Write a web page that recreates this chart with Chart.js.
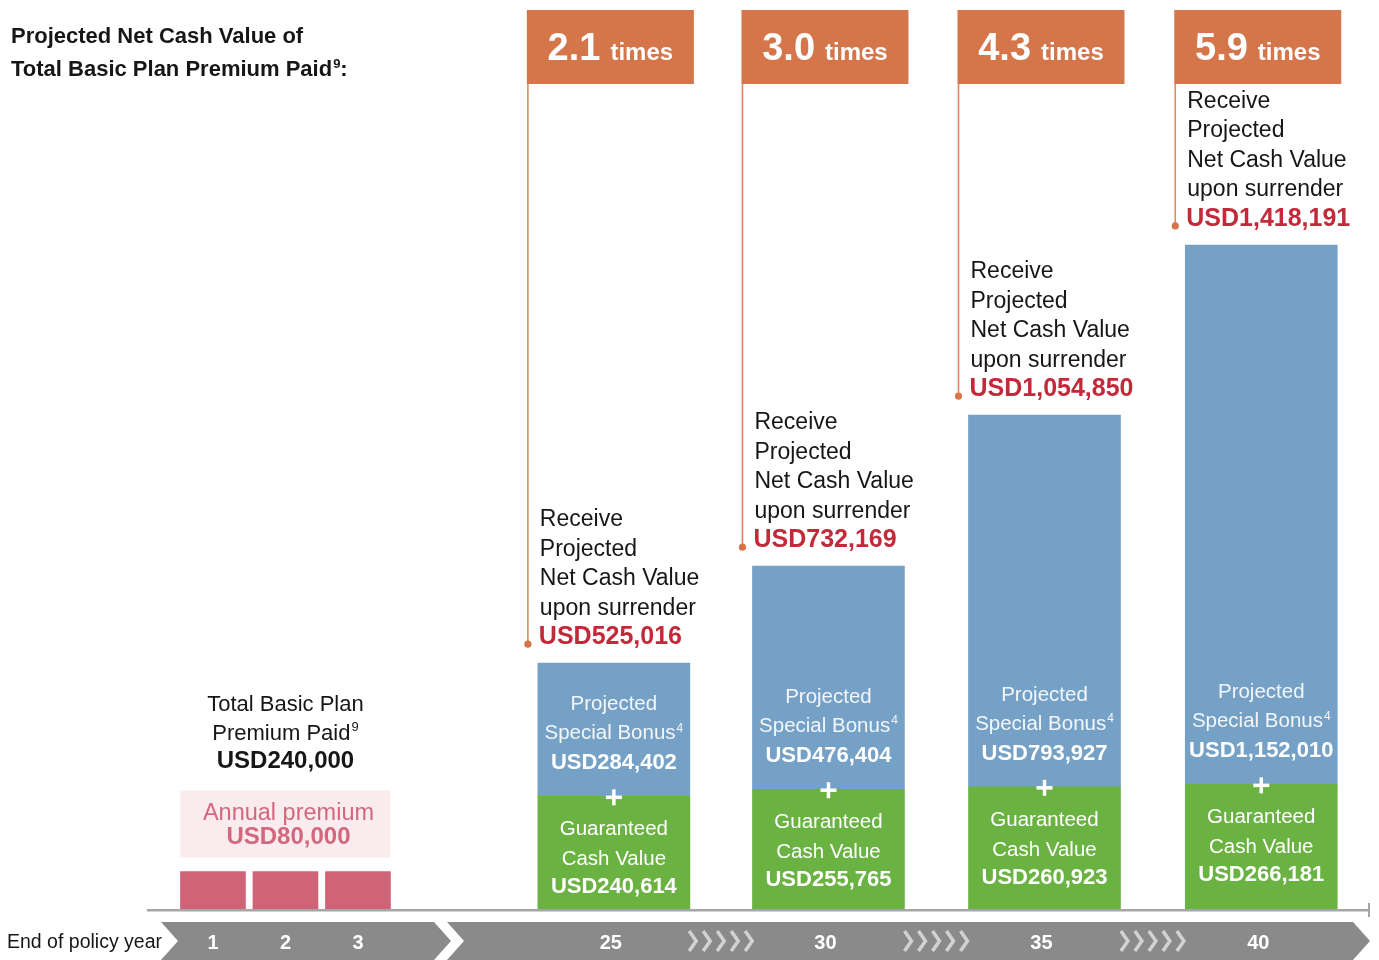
<!DOCTYPE html>
<html>
<head>
<meta charset="utf-8">
<script src="https://cdn.jsdelivr.net/npm/chart.js@4.4.0/dist/chart.umd.min.js"></script>
<style>
  html, body { margin: 0; padding: 0; background: #fff; }
  #wrap { width: 1379px; height: 960px; }
</style>
</head>
<body>
<div id="wrap"><canvas id="chart" width="1379" height="960"></canvas></div>
<script>
// values as printed on the chart (USD)
const premiumYears = ['1', '2', '3'];
const annualPremium = [80000, 80000, 80000];
const totalPremium = 240000;
const milestoneYears = ['25', '30', '35', '40'];
const guaranteedCashValue = [240614, 255765, 260923, 266181];
const specialBonus = [284402, 476404, 793927, 1152010];
const netCashValue = [525016, 732169, 1054850, 1418191];
const multiples = ['2.1', '3.0', '4.3', '5.9'];

// layout: where each bar sits along the (hidden) x axis
const PREMIUM_SLOTS = [0, 1, 2];
const MILESTONE_SLOTS = [5.53, 8.49, 11.47, 14.46];

const FONT = '"Liberation Sans", Arial, sans-serif';
const ORANGE = '#D4764A';
const RED = '#C22A3A';
const INK = '#161616';

function usd(v) {
    return 'USD' + v.toLocaleString('en-US');
}

function put(ctx, s, x, y, size, weight, color, align) {
    ctx.font = weight + ' ' + size + 'px ' + FONT;
    ctx.fillStyle = color;
    ctx.textAlign = align || 'left';
    ctx.textBaseline = 'alphabetic';
    ctx.fillText(s, x, y);
}

// text followed by a small raised footnote number (and optional tail)
function putSup(ctx, s, sup, x, y, size, weight, color, align, tail) {
    ctx.font = weight + ' ' + size + 'px ' + FONT;
    const w1 = ctx.measureText(s).width;
    const w3 = tail ? ctx.measureText(tail).width : 0;
    const supSize = Math.round(size * 0.58);
    ctx.font = weight + ' ' + supSize + 'px ' + FONT;
    const w2 = ctx.measureText(sup).width + 1;
    const total = w1 + w2 + w3;
    const left = align === 'center' ? x - total / 2 : x;
    put(ctx, s, left, y, size, weight, color, 'left');
    put(ctx, sup, left + w1 + 1, y - size * 0.38, supSize, weight, color, 'left');
    if (tail) put(ctx, tail, left + w1 + w2, y, size, weight, color, 'left');
}

function drawPlus(ctx, x, y) {
    ctx.fillStyle = '#fff';
    ctx.fillRect(x - 8, y - 1.75, 16, 3.5);
    ctx.fillRect(x - 1.75, y - 8, 3.5, 16);
}

function drawChevrons(ctx, cx, y) {
    ctx.strokeStyle = '#D2D2D2';
    ctx.lineWidth = 3.5;
    for (let k = 0; k < 5; k++) {
        const x = cx - 30 + k * 14;
        ctx.beginPath();
        ctx.moveTo(x, y - 10);
        ctx.lineTo(x + 7, y);
        ctx.lineTo(x, y + 10);
        ctx.stroke();
    }
}

const annotate = {
    id: 'annotate',
    afterDraw(chart) {
        const ctx = chart.ctx;
        const area = chart.chartArea;
        const pink = chart.getDatasetMeta(0).data;
        const green = chart.getDatasetMeta(1).data;
        const blue = chart.getDatasetMeta(2).data;
        ctx.save();

        // title
        put(ctx, 'Projected Net Cash Value of', 11, 43, 22, 'bold', INK);
        putSup(ctx, 'Total Basic Plan Premium Paid', '9', 11, 76, 22, 'bold', INK, 'left', ':');

        // baseline
        ctx.fillStyle = '#A6A6A6';
        ctx.fillRect(area.left, area.bottom, area.right - area.left, 2.5);
        ctx.fillRect(area.right - 2, area.bottom - 6, 2, 14);

        // premium block
        const pTop = pink[0].y;
        const pcx = pink[1].x;
        put(ctx, 'Total Basic Plan', pcx, pTop - 161, 22, 'normal', INK, 'center');
        putSup(ctx, 'Premium Paid', '9', pcx, pTop - 132, 22, 'normal', INK, 'center');
        put(ctx, usd(totalPremium), pcx, pTop - 104, 24, 'bold', INK, 'center');
        const bx0 = pink[0].x - pink[0].width / 2;
        const bx1 = pink[2].x + pink[2].width / 2;
        ctx.fillStyle = '#F9EBEE';
        ctx.fillRect(bx0, pTop - 81, bx1 - bx0, 67);
        put(ctx, 'Annual premium', pcx + 3, pTop - 52, 23.5, 'normal', '#D2677E', 'center');
        put(ctx, usd(annualPremium[0]), pcx + 3, pTop - 28, 24, 'bold', '#D2677E', 'center');

        // milestone bars
        blue.forEach((b, i) => {
            const g = green[i];
            const left = b.x - b.width / 2;
            const boxL = left - 11;

            // multiple box
            ctx.fillStyle = ORANGE;
            ctx.fillRect(boxL, 10, 167, 74);
            ctx.font = 'bold 38px ' + FONT;
            const w1 = ctx.measureText(multiples[i]).width;
            ctx.font = 'bold 24px ' + FONT;
            const w2 = ctx.measureText('times').width;
            const tx = boxL + 83.5 - (w1 + 10 + w2) / 2;
            put(ctx, multiples[i], tx, 60, 38, 'bold', '#fff');
            put(ctx, 'times', tx + w1 + 10, 60, 24, 'bold', '#fff');

            // leader line and callout
            const redY = b.y - 19;
            ctx.strokeStyle = '#DC8A60';
            ctx.lineWidth = 1.6;
            ctx.beginPath();
            ctx.moveTo(boxL + 1, 84);
            ctx.lineTo(boxL + 1, redY);
            ctx.stroke();
            ctx.fillStyle = ORANGE;
            ctx.beginPath();
            ctx.arc(boxL + 1, redY, 3.6, 0, Math.PI * 2);
            ctx.fill();
            const lines = ['Receive', 'Projected', 'Net Cash Value', 'upon surrender'];
            lines.forEach((s, k) => {
                put(ctx, s, left + 2, redY - 29.5 * (4 - k), 23, 'normal', INK);
            });
            put(ctx, usd(netCashValue[i]), left + 1, redY, 25, 'bold', RED);

            // inside the bars
            const mid = b.base;
            put(ctx, 'Projected', b.x, mid - 86, 20.5, 'normal', '#F3F6FA', 'center');
            putSup(ctx, 'Special Bonus', '4', b.x, mid - 57, 20.5, 'normal', '#F3F6FA', 'center');
            put(ctx, usd(specialBonus[i]), b.x, mid - 27, 22, 'bold', '#fff', 'center');
            drawPlus(ctx, b.x, mid + 1);
            put(ctx, 'Guaranteed', g.x, mid + 39, 20.5, 'normal', '#fff', 'center');
            put(ctx, 'Cash Value', g.x, mid + 69, 20.5, 'normal', '#fff', 'center');
            put(ctx, usd(guaranteedCashValue[i]), g.x, mid + 97, 22, 'bold', '#fff', 'center');
        });

        // policy year ribbon
        const top = 922, mY = 941, bot = 960, d = 17;
        ctx.fillStyle = '#8A8A8A';
        ctx.beginPath();
        ctx.moveTo(161, top);
        ctx.lineTo(434, top);
        ctx.lineTo(434 + d, mY);
        ctx.lineTo(434, bot);
        ctx.lineTo(161, bot);
        ctx.lineTo(161 + d, mY);
        ctx.closePath();
        ctx.fill();
        ctx.beginPath();
        ctx.moveTo(447, top);
        ctx.lineTo(1353, top);
        ctx.lineTo(1353 + d, mY);
        ctx.lineTo(1353, bot);
        ctx.lineTo(447, bot);
        ctx.lineTo(447 + d, mY);
        ctx.closePath();
        ctx.fill();

        put(ctx, 'End of policy year', 7, 948, 19.5, 'normal', INK);
        pink.forEach((p, i) => {
            put(ctx, premiumYears[i], p.x, 949, 20, 'bold', '#fff', 'center');
        });
        blue.forEach((b, i) => {
            put(ctx, milestoneYears[i], b.x - 3, 949, 20, 'bold', '#fff', 'center');
            if (i < blue.length - 1) drawChevrons(ctx, (b.x + blue[i + 1].x) / 2 - 2, mY);
        });

        ctx.restore();
    }
};

const ctx = document.getElementById('chart').getContext('2d');
const chart = new Chart(ctx, {
    type: 'bar',
    data: {
        datasets: [
            {
                label: 'Annual premium',
                data: annualPremium.map((v, i) => ({ x: PREMIUM_SLOTS[i], y: v })),
                backgroundColor: '#CF6479',
                barThickness: 65,
                stack: 's'
            },
            {
                label: 'Guaranteed Cash Value',
                data: guaranteedCashValue.map((v, i) => ({ x: MILESTONE_SLOTS[i], y: v })),
                backgroundColor: '#6AB242',
                barThickness: 152,
                stack: 's'
            },
            {
                label: 'Projected Special Bonus',
                data: specialBonus.map((v, i) => ({ x: MILESTONE_SLOTS[i], y: v })),
                backgroundColor: '#74A1C5',
                barThickness: 152,
                stack: 's'
            }
        ]
    },
    options: {
        responsive: false,
        animation: false,
        devicePixelRatio: 1,
        layout: { padding: { left: 147, right: 9, top: 10, bottom: 51 } },
        scales: {
            x: { type: 'linear', min: -0.91, max: 15.96, offset: false, stacked: true, display: false },
            y: { min: 0, max: 1920000, stacked: true, display: false }
        },
        plugins: {
            legend: { display: false },
            tooltip: { enabled: false }
        }
    },
    plugins: [annotate]
});
</script>
</body>
</html>
